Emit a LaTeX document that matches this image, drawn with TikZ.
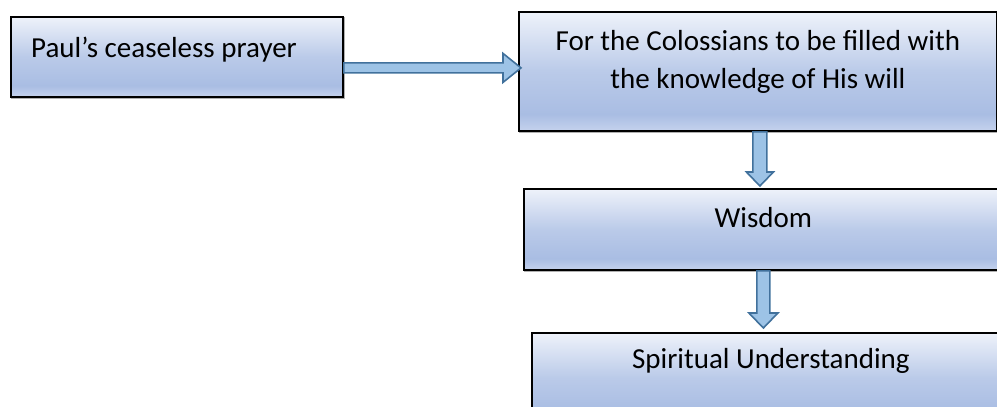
\documentclass[tikz,border=0pt]{standalone}
\usepackage{fontspec}
\setmainfont{Carlito}
\usetikzlibrary{calc}
\definecolor{gT}{HTML}{EEF2FA}
\definecolor{gM}{HTML}{A9BDE3}
\definecolor{gB}{HTML}{C5D2ED}
\definecolor{arrFill}{HTML}{9DC3E6}
\definecolor{arrLine}{HTML}{41719C}
\definecolor{shadowC}{HTML}{B0B0B0}
\pgfdeclareverticalshading{boxgrad}{100bp}{color(0bp)=(gB); color(25bp)=(gB); color(32bp)=(gM); color(50bp)=(gM!75!gT); color(75bp)=(gT); color(100bp)=(gT)}
\tikzset{
  gbox/.style={draw=black, line width=1.8pt, shading=boxgrad, inner sep=0pt, anchor=north west,
     preaction={draw=shadowC, line width=1.8pt, transform canvas={shift={(1.2pt,-1.2pt)}}}},
  lbl/.style={font=\fontsize{29}{38}\selectfont, inner sep=0pt, align=center},
  fatarrow/.style={draw=arrLine, fill=arrFill, line width=1.6pt, line join=miter}
}
\begin{document}
\begin{tikzpicture}[x=1pt,y=-1pt]
\useasboundingbox (0,0) rectangle (997,407);
\clip (0,0) rectangle (997,407);
% boxes
\node[gbox, minimum width=332pt, minimum height=80pt] (b1) at (10,16) {};
\node[gbox, minimum width=478pt, minimum height=119pt] (b2) at (518,11) {};
\node[gbox, minimum width=479pt, minimum height=81pt] (b3) at (523,188) {};
\node[gbox, minimum width=478pt, minimum height=90pt] (b4) at (531,332) {};
% texts
\node[lbl, anchor=base west] (t1) at ($(b1.north west)+(21,41)$) {Paul’s ceaseless prayer};
\node[lbl, anchor=base] (t2) at ($(b2.north)+(0,77)$) {For the Colossians to be filled with\\the knowledge of His will};
\node[lbl, anchor=base] (t3) at ($(b3.north)+(0,39)$) {Wisdom};
\node[lbl, anchor=base] (t4) at ($(b4.north)+(0,36)$) {Spiritual Understanding};
% arrows
\coordinate (a1s) at ($(b1.east)+(0,11)$);
\coordinate (a1t) at (b2.west |- a1s);
\draw[fatarrow] ($(a1s)+(0,-5)$) -- ($(a1t)+(-15,-5)$) -- ($(a1t)+(-15,-14.5)$) -- ($(a1t)+(3,0)$)
  -- ($(a1t)+(-15,14.5)$) -- ($(a1t)+(-15,5)$) -- ($(a1s)+(0,5)$) -- cycle;
\coordinate (a2s) at ($(b2.south)+(2,0)$);
\coordinate (a2t) at (a2s |- b3.north);
\draw[fatarrow] ($(a2s)+(-7,0)$) -- ($(a2t)+(-7,-16)$) -- ($(a2t)+(-13.5,-16)$) -- ($(a2t)+(0,-2)$)
  -- ($(a2t)+(13.5,-16)$) -- ($(a2t)+(7,-16)$) -- ($(a2s)+(7,0)$) -- cycle;
\coordinate (a3s) at ($(b3.south)+(0,0)$);
\coordinate (a3t) at (a3s |- b4.north);
\draw[fatarrow] ($(a3s)+(-6.5,0)$) -- ($(a3t)+(-6.5,-19)$) -- ($(a3t)+(-14.5,-19)$) -- ($(a3t)+(0,-4)$)
  -- ($(a3t)+(14.5,-19)$) -- ($(a3t)+(6.5,-19)$) -- ($(a3s)+(6.5,0)$) -- cycle;
\end{tikzpicture}
\end{document}
